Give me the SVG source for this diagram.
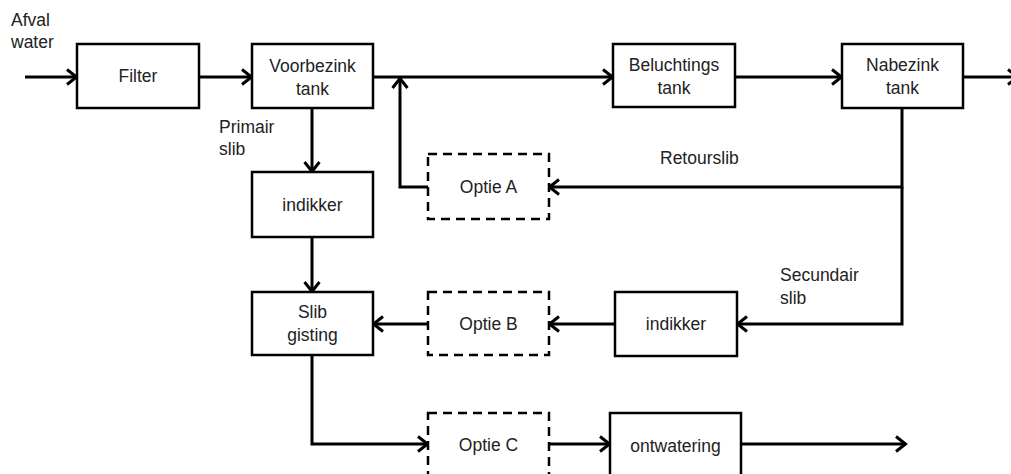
<svg xmlns="http://www.w3.org/2000/svg" width="1011" height="474" viewBox="0 0 1011 474">
<style>
.box{fill:#fff;stroke:#000;stroke-width:2.5}
.dash{fill:#fff;stroke:#000;stroke-width:2.5;stroke-dasharray:9 6}
.ln{fill:none;stroke:#000;stroke-width:3;stroke-linejoin:miter}
text{font-family:"Liberation Sans",Arial,sans-serif;font-size:17.5px;fill:#222}
.c{text-anchor:middle}
</style>
<defs>
<marker id="ah" markerUnits="userSpaceOnUse" markerWidth="14" markerHeight="18" viewBox="0 0 14 18" refX="12" refY="9" orient="auto">
<path d="M2,1.5 L11.5,9 L2,16.5" fill="none" stroke="#000" stroke-width="3"/>
</marker>
</defs>
<g id="connectors">
<line class="ln" x1="25" y1="77" x2="77" y2="77" marker-end="url(#ah)"/>
<line class="ln" x1="199" y1="77" x2="252" y2="77" marker-end="url(#ah)"/>
<line class="ln" x1="373" y1="77" x2="613" y2="77" marker-end="url(#ah)"/>
<line class="ln" x1="735" y1="77" x2="842" y2="77" marker-end="url(#ah)"/>
<line class="ln" x1="963" y1="77" x2="1018" y2="77" marker-end="url(#ah)"/>
<line class="ln" x1="312" y1="108" x2="312" y2="172" marker-end="url(#ah)"/>
<line class="ln" x1="312" y1="237" x2="312" y2="292" marker-end="url(#ah)"/>
<polyline class="ln" points="428,187 400,187 400,78" marker-end="url(#ah)"/>
<polyline class="ln" points="902,108 902,187 549,187" marker-end="url(#ah)"/>
<polyline class="ln" points="902,187 902,324 737,324" marker-end="url(#ah)"/>
<line class="ln" x1="615" y1="324" x2="549" y2="324" marker-end="url(#ah)"/>
<line class="ln" x1="428" y1="324" x2="373" y2="324" marker-end="url(#ah)"/>
<polyline class="ln" points="312,355 312,444 428,444" marker-end="url(#ah)"/>
<line class="ln" x1="549" y1="444" x2="610" y2="444" marker-end="url(#ah)"/>
<line class="ln" x1="741" y1="444" x2="906" y2="444" marker-end="url(#ah)"/>
</g>
<g id="labels">
<text x="11" y="26">Afval</text>
<text x="11" y="48">water</text>
<text x="219" y="133">Primair</text>
<text x="219" y="155">slib</text>
<text x="660" y="164">Retourslib</text>
<text x="780" y="281">Secundair</text>
<text x="780" y="304">slib</text>
</g>
<g id="filter"><rect class="box" x="77" y="44" width="122" height="64"/><text class="c" x="138" y="82">Filter</text></g>
<g id="voorbezink"><rect class="box" x="252" y="44" width="121" height="64"/><text class="c" x="312.5" y="72">Voorbezink</text><text class="c" x="312.5" y="95">tank</text></g>
<g id="beluchtings"><rect class="box" x="613" y="44" width="122" height="63"/><text class="c" x="674" y="71">Beluchtings</text><text class="c" x="674" y="94">tank</text></g>
<g id="nabezink"><rect class="box" x="842" y="44" width="121" height="64"/><text class="c" x="902.5" y="71">Nabezink</text><text class="c" x="902.5" y="94">tank</text></g>
<g id="indikker1"><rect class="box" x="252" y="172" width="121" height="65"/><text class="c" x="312.5" y="211">indikker</text></g>
<g id="optieA"><rect class="dash" x="428" y="154" width="121" height="65"/><text class="c" x="488.5" y="193">Optie A</text></g>
<g id="slibgisting"><rect class="box" x="252" y="292" width="121" height="63"/><text class="c" x="312.5" y="318">Slib</text><text class="c" x="312.5" y="341">gisting</text></g>
<g id="optieB"><rect class="dash" x="428" y="292" width="121" height="63"/><text class="c" x="488.5" y="330">Optie B</text></g>
<g id="indikker2"><rect class="box" x="615" y="292" width="122" height="64"/><text class="c" x="676" y="330">indikker</text></g>
<g id="optieC"><rect class="dash" x="428" y="413" width="121" height="70"/><text class="c" x="488.5" y="451">Optie C</text></g>
<g id="ontwatering"><rect class="box" x="610" y="413" width="131" height="70"/><text class="c" x="675.5" y="452">ontwatering</text></g>
</svg>
